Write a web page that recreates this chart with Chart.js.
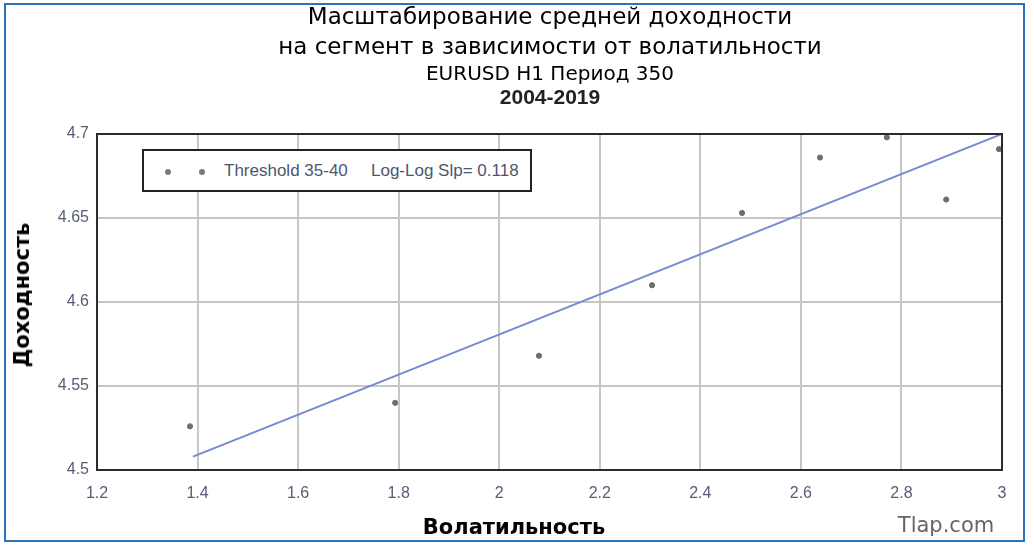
<!DOCTYPE html>
<html>
<head>
<meta charset="utf-8">
<script src="https://cdn.jsdelivr.net/npm/chart.js@4/dist/chart.umd.min.js"></script>
<style>
  html, body { margin:0; padding:0; background:#fff; }
  #wrap { position:relative; width:1034px; height:548px; overflow:hidden; }
  #frame { position:absolute; left:4px; top:3px; width:1017px; height:535px; border:2px solid #2a72c4; }
  canvas { position:absolute; left:0; top:0; }
  .t { position:absolute; left:0; width:1100px; text-align:center; color:#000; font-family:"DejaVu Sans", sans-serif; white-space:nowrap; }
  #legend { position:absolute; left:142px; top:149px; width:390px; height:43px; border:2px solid #222; background:#fff; box-sizing:border-box; font-family:"Liberation Sans", Arial, sans-serif; font-size:17px; color:#4e5670; }
  .dot { position:absolute; top:18px; width:6px; height:6px; border-radius:50%; background:#7a7a7a; }
</style>
</head>
<body>
<div id="wrap">
  <div id="frame"></div>
  <canvas id="c" width="1034" height="548"></canvas>
  <div class="t" style="top:3px; font-size:23px;">Масштабирование средней доходности</div>
  <div class="t" style="top:33px; font-size:23px;">на сегмент в зависимости от волатильности</div>
  <div class="t" style="top:61px; font-size:20px;">EURUSD H1 Период 350</div>
  <div class="t" style="top:85px; font-size:21px; font-weight:bold; font-family:'Liberation Sans', Arial, sans-serif; color:#222;">2004-2019</div>
  <div style="position:absolute; left:22px; top:295px; transform:translate(-50%,-50%) rotate(-90deg); font-family:'DejaVu Sans', sans-serif; font-weight:bold; font-size:21px; white-space:nowrap;">Доходность</div>
  <div style="position:absolute; left:514px; top:527px; transform:translate(-50%,-50%); font-family:'DejaVu Sans', sans-serif; font-weight:bold; font-size:21px; white-space:nowrap;">Волатильность</div>
  <div style="position:absolute; left:946px; top:525px; transform:translate(-50%,-50%); font-family:'DejaVu Sans', sans-serif; font-size:21px; color:#666; white-space:nowrap;">Tlap.com</div>
  <div id="legend">
    <div class="dot" style="left:21px;"></div>
    <div class="dot" style="left:55px;"></div>
    <div style="position:absolute; left:80px; top:10px; white-space:nowrap;">Threshold 35-40</div>
    <div style="position:absolute; left:227px; top:10px; white-space:nowrap;">Log-Log Slp= 0.118</div>
  </div>
</div>
<script>
// Data
const volatility = [1.385, 1.793, 2.079, 2.304, 2.483, 2.638, 2.771, 2.889, 2.994];
const returns    = [4.526, 4.540, 4.568, 4.610, 4.653, 4.686, 4.698, 4.661, 4.691];
const fitX = [1.391, 3.0];
const fitY = [4.508, 4.700];
const xTicks = [1.2, 1.4, 1.6, 1.8, 2, 2.2, 2.4, 2.6, 2.8, 3];
const xTickLabels = ['1.2', '1.4', '1.6', '1.8', '2', '2.2', '2.4', '2.6', '2.8', '3'];
const yTicks = [4.5, 4.55, 4.6, 4.65, 4.7];
const yTickLabels = ['4.5', '4.55', '4.6', '4.65', '4.7'];

const points = volatility.map((v, i) => ({x: v, y: returns[i]}));
const fitLine = fitX.map((v, i) => ({x: v, y: fitY[i]}));

const frameBox = {
  id: 'frameBox',
  afterDraw(chart) {
    const a = chart.chartArea, ctx = chart.ctx;
    ctx.save();
    ctx.strokeStyle = '#2b2b2b';
    ctx.lineWidth = 2;
    ctx.strokeRect(a.left, a.top, a.right - a.left, a.bottom - a.top);
    ctx.restore();
  }
};

new Chart(document.getElementById('c'), {
  type: 'scatter',
  data: {
    datasets: [
      { label: 'Fit', type: 'line', data: fitLine, borderColor: '#7489d6', borderWidth: 2, pointRadius: 0, fill: false, order: 2 },
      { label: 'Threshold 35-40', data: points, backgroundColor: '#6e6e6e', borderColor: '#6e6e6e', pointRadius: 2.6, order: 1 }
    ]
  },
  options: {
    responsive: false,
    animation: false,
    layout: { padding: { top: 134, right: 32, left: 0, bottom: 0 } },
    plugins: { legend: { display: false }, title: { display: false }, tooltip: { enabled: false } },
    scales: {
      x: {
        type: 'linear', min: 1.2, max: 3,
        afterFit(s) { s.height = 78; },
        afterBuildTicks(s) { s.ticks = xTicks.map(v => ({value: v})); },
        grid: { color: '#c6c6c6', lineWidth: 2, drawTicks: false },
        border: { display: false },
        ticks: {
          color: '#555d75', font: { family: "'Liberation Sans Narrow', 'Liberation Sans', Arial", size: 16 }, padding: 14, maxRotation: 0,
          callback: (v) => { const i = xTicks.findIndex(t => Math.abs(t - v) < 1e-9); return i >= 0 ? xTickLabels[i] : ''; }
        }
      },
      y: {
        type: 'linear', min: 4.5, max: 4.7,
        afterFit(s) { s.width = 97; },
        afterBuildTicks(s) { s.ticks = yTicks.map(v => ({value: v})); },
        grid: { color: '#c6c6c6', lineWidth: 2, drawTicks: false },
        border: { display: false },
        ticks: {
          color: '#555d75', font: { family: "'Liberation Sans', Arial", size: 16 }, padding: 8,
          callback: (v) => { const i = yTicks.findIndex(t => Math.abs(t - v) < 1e-9); return i >= 0 ? yTickLabels[i] : ''; }
        }
      }
    }
  },
  plugins: [frameBox]
});
</script>
</body>
</html>
